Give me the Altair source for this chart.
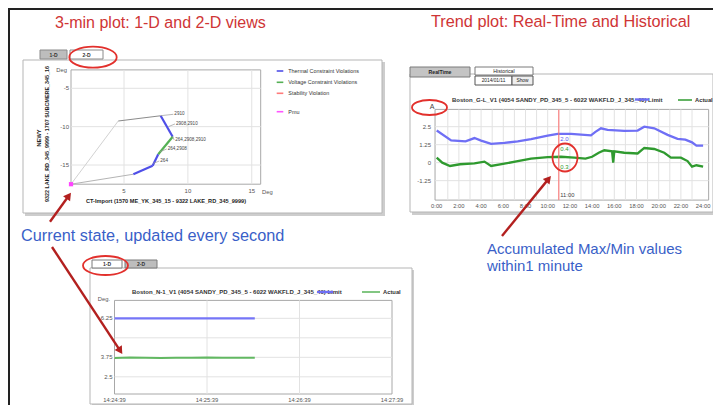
import math
import pandas as pd
import altair as alt

# ---------------- data ----------------
# 2-D view: operating-point trajectory (CT-Import vs NEWY angle difference, Deg)
traj_x = [0.85, 4.55, 7.87, 8.81, 7.68, 7.24, 5.73, 0.85]
traj_y = [-17.5, -9.26, -8.57, -11.31, -13.6, -15.1, -16.2, -17.5]
traj_seg = ["start", "approach", "thermal", "voltage", "thermal", "thermal", "return"]
pmu_x = [0.85]
pmu_y = [-17.5]
tag_text = ["2910", "2908,2910", "264,2908,2910", "264,2908", "264"]
tag_x = [8.86, 8.99, 8.93, 8.34, 7.76]
tag_y = [-8.39, -9.65, -11.74, -12.91, -14.48]
tag_from_x = [7.87, 8.47, 8.81, 7.82, 7.29]
tag_from_y = [-8.57, -10.0, -11.31, -13.27, -14.78]
twod_xticks = [5, 10, 15]
twod_xlabels = ["5", "10", "15"]
twod_yticks = [-5, -10, -15]
twod_ylabels = ["-5", "-10", "-15"]
legend_names = ["Thermal Constraint Violations", "Voltage Constraint Violations",
                "Stability Violation", "Pmu"]

# Trend plot (24 h): Limit and Actual
limit_h = [0, 1.3, 2.6, 3.4, 4.0, 4.9, 6.1, 7.3, 8.5, 10.0, 10.9, 12.1, 13.9, 14.3,
           14.8, 15.4, 16.9, 18.1, 18.7, 19.6, 20.8, 21.7, 22.4, 23.0, 23.4, 24.0]
limit_v = [2.23, 1.55, 1.48, 1.71, 1.53, 1.30, 1.37, 1.48, 1.64, 1.87, 2.0, 2.0, 1.9,
           2.14, 2.39, 2.28, 2.21, 2.23, 2.5, 2.39, 1.93, 1.66, 1.60, 1.41, 1.18, 1.18]
actual_h = [0, 0.5, 1.2, 2.1, 3.4, 4.3, 4.9, 6.1, 7.3, 8.5, 10.0, 11.2, 12.4, 13.4, 14.0,
            14.6, 15.1, 15.8, 15.9, 16.0, 16.9, 18.1, 18.7, 19.6, 20.5, 21.1, 22.0, 22.6,
            23.0, 23.4, 24.0]
actual_v = [0.35, 0.0, -0.23, -0.11, -0.05, 0.07, -0.23, -0.07, 0.11, 0.28, 0.39, 0.41,
            0.35, 0.28, 0.41, 0.69, 0.86, 0.79, 0.0, 0.79, 0.69, 0.64, 1.02, 0.95, 0.69,
            0.35, 0.35, 0.11, -0.28, -0.18, -0.28]
trend_xticks = [0, 2, 4, 6, 8, 10, 12, 14, 16, 18, 20, 22, 24]
trend_xlabels = ["0:00", "2:00", "4:00", "6:00", "8:00", "10:00", "12:00", "14:00",
                 "16:00", "18:00", "20:00", "22:00", "24:00"]
trend_vgrid = [1, 2, 3, 4, 5, 6, 7, 8, 9, 10, 11, 12, 13, 14, 15, 16, 17, 18, 19, 20, 21, 22, 23]
trend_yticks = [2.5, 1.25, 0, -1.25]
trend_ylabels = ["2.5", "1.25", "0", "-1.25"]
cursor_hour = [11.0]
readout_text = ["2.0", "0.4", "0.3"]
readout_y = [1.65, 0.95, -0.3]
readout_color = ["#5a5af0", "#2f9a2f", "#2f9a2f"]

# 1-D view (3 minutes)
oned_t = [0, 10, 20, 30, 40, 50, 60, 70, 80, 91]
oned_limit = [6.25, 6.25, 6.25, 6.25, 6.25, 6.25, 6.25, 6.25, 6.25, 6.25]
oned_actual = [3.70, 3.74, 3.72, 3.71, 3.72, 3.73, 3.74, 3.72, 3.73, 3.73]
oned_xticks = [0, 60, 120, 180]
oned_xlabels = ["14:24:39", "14:25:39", "14:26:39", "14:27:39"]
oned_grid_y = [2.5, 3.75, 5.0, 6.25]
oned_yticks = [6.25, 3.75, 2.5]
oned_ylabels = ["6.25", "3.75", "2.5"]

# ---------------- style ----------------
FONT = "Liberation Sans"
RED_TITLE = "#cf3535"
BLUE_TEXT = "#3a5fc8"
ARROW_RED = "#b3201f"
ELLIPSE_RED = "#e2302c"
GRID = "#e2e2e2"
PLOT_EDGE = "#a8a8a8"
TICK = "#555555"
LIMIT_BLUE = "#6f6ff5"
ACTUAL_GREEN = "#2f9a2f"
W, H = 705, 397

ONE = pd.DataFrame({"k": [0]})


def d_rect(x, y, x2, y2, fill="white", stroke="", sw=1.0):
    props = {"fill": fill, "strokeWidth": sw}
    if stroke:
        props["stroke"] = stroke
    return alt.Chart(ONE).mark_rect(**props).encode(
        x=alt.value(x), y=alt.value(y), x2=alt.value(x2), y2=alt.value(y2))


def d_rule(x, y, x2, y2, color, sw=1.0):
    return alt.Chart(ONE).mark_rule(color=color, strokeWidth=sw).encode(
        x=alt.value(x), y=alt.value(y), x2=alt.value(x2), y2=alt.value(y2))


def d_text(txt, x, y, size=6.0, color="#333333", align="left", baseline="middle",
           bold=False, angle=0):
    props = dict(text=txt, fontSize=size, color=color, align=align, baseline=baseline,
                 font=FONT)
    if bold:
        props["fontWeight"] = "bold"
    if angle:
        props["angle"] = angle
    return alt.Chart(ONE).mark_text(**props).encode(x=alt.value(x), y=alt.value(y))


def ellipse_path(rx, ry):
    m = max(rx, ry)
    a, b = rx / m, ry / m
    k = 0.5523
    f = lambda v: f"{v:.4f}"
    return (f"M{f(a)},0 C{f(a)},{f(b*k)} {f(a*k)},{f(b)} 0,{f(b)} "
            f"C{f(-a*k)},{f(b)} {f(-a)},{f(b*k)} {f(-a)},0 "
            f"C{f(-a)},{f(-b*k)} {f(-a*k)},{f(-b)} 0,{f(-b)} "
            f"C{f(a*k)},{f(-b)} {f(a)},{f(-b*k)} {f(a)},0 Z")


def d_ellipse(cx, cy, rx, ry):
    return alt.Chart(ONE).mark_point(
        shape=ellipse_path(rx, ry), size=(2 * max(rx, ry)) ** 2, filled=False,
        color=ELLIPSE_RED, strokeWidth=1.8, opacity=1).encode(
        x=alt.value(cx), y=alt.value(cy))


def d_arrow(x1, y1, x2, y2, head=75):
    L = math.hypot(x2 - x1, y2 - y1)
    ux, uy = (x2 - x1) / L, (y2 - y1) / L
    r = math.sqrt(head) / 2
    tip = 2 * math.tan(math.pi / 6) * r
    cx, cy = x2 - ux * tip, y2 - uy * tip
    ang = math.degrees(math.atan2(ux, -uy)) % 360
    shaft = d_rule(x1, y1, cx, cy, ARROW_RED, 2.4)
    hd = alt.Chart(ONE).mark_point(shape="triangle-up", size=head, angle=ang,
                                   filled=True, color=ARROW_RED, opacity=1).encode(
        x=alt.value(cx), y=alt.value(cy))
    return [shaft, hd]


def XQ(field, sc):
    return alt.X(field, type="quantitative", scale=sc, axis=None)


def YQ(field, sc):
    return alt.Y(field, type="quantitative", scale=sc, axis=None)


def XD(v, sc):
    return alt.XDatum(v, type="quantitative", scale=sc, axis=None)


def YD(v, sc):
    return alt.YDatum(v, type="quantitative", scale=sc, axis=None)


def tick_df(vals, labs=None):
    d = {"v": vals}
    if labs is not None:
        d["lab"] = labs
    return pd.DataFrame(d)


# ---------------- panel A: 2-D view ----------------
xA = [0.85, 15.7]
yA = [-17.5, -2.6]
xsA = alt.Scale(domain=xA, range=[63, 252.7], nice=False, zero=False)
ysA = alt.Scale(domain=yA, range=[176.2, 61.9], nice=False, zero=False)

A = []
A.append(alt.Chart(ONE).mark_rect(fill="white", stroke=PLOT_EDGE, strokeWidth=1).encode(
    x=XD(xA[0], xsA), x2=alt.X2Datum(xA[1]), y=YD(yA[0], ysA), y2=alt.Y2Datum(yA[1])))
A.append(alt.Chart(tick_df(twod_xticks)).mark_rule(color=GRID).encode(
    x=XQ("v", xsA), y=YD(yA[0], ysA), y2=alt.Y2Datum(yA[1])))
A.append(alt.Chart(tick_df(twod_yticks)).mark_rule(color=GRID).encode(
    y=YQ("v", ysA), x=XD(xA[0], xsA), x2=alt.X2Datum(xA[1])))
A.append(alt.Chart(tick_df(twod_xticks, twod_xlabels)).mark_text(
    fontSize=6, color=TICK, font=FONT, baseline="top", dy=4).encode(
    x=XQ("v", xsA), y=YD(yA[0], ysA), text="lab:N"))
A.append(alt.Chart(tick_df(twod_yticks, twod_ylabels)).mark_text(
    fontSize=6, color=TICK, font=FONT, align="right", dx=-2).encode(
    y=YQ("v", ysA), x=XD(xA[0], xsA), text="lab:N"))

seg_rows = []
for i, kind in enumerate(traj_seg):
    for j in (i, i + 1):
        seg_rows.append({"seg": i, "kind": kind, "x": traj_x[j], "y": traj_y[j], "o": j})
seg_df = pd.DataFrame(seg_rows)
seg_style = {"start": ("#d2d2d2", 1.0), "approach": ("#8c8c8c", 1.1),
             "return": ("#b4b4b4", 1.0), "thermal": ("#4f4fe8", 2.2),
             "voltage": ("#55b055", 2.2)}
for kind, (col, sw) in seg_style.items():
    A.append(alt.Chart(seg_df[seg_df["kind"] == kind]).mark_line(
        color=col, strokeWidth=sw).encode(
        x=XQ("x", xsA), y=YQ("y", ysA), detail="seg:N", order="o:Q"))

tags = pd.DataFrame({"t": tag_text, "tx": tag_x, "ty": tag_y,
                     "fx": tag_from_x, "fy": tag_from_y})
A.append(alt.Chart(tags).mark_rule(color="#9a9a9a", strokeWidth=0.7).encode(
    x=XQ("fx", xsA), y=YQ("fy", ysA), x2="tx:Q", y2="ty:Q"))
A.append(alt.Chart(tags).mark_text(fontSize=4.6, color="#444444", font=FONT,
                                   align="left", dx=1).encode(
    x=XQ("tx", xsA), y=YQ("ty", ysA), text="t:N"))
A.append(alt.Chart(pd.DataFrame({"x": pmu_x, "y": pmu_y})).mark_square(
    size=18, color="#ff44ff", opacity=1).encode(x=XQ("x", xsA), y=YQ("y", ysA)))
panelA = alt.layer(*A)

# ---------------- panel B: trend plot ----------------
xB = [-0.15, 24.5]
yB = [-2.6, 3.7]
xsB = alt.Scale(domain=[0, 24], range=[428.7, 695.1], nice=False, zero=False)
ysB = alt.Scale(domain=yB, range=[192.1, 101.4], nice=False, zero=False)

B = []
B.append(alt.Chart(ONE).mark_rect(fill="white", stroke=PLOT_EDGE, strokeWidth=1).encode(
    x=XD(xB[0], xsB), x2=alt.X2Datum(xB[1]), y=YD(yB[0], ysB), y2=alt.Y2Datum(yB[1])))
B.append(alt.Chart(tick_df(trend_vgrid)).mark_rule(color=GRID).encode(
    x=XQ("v", xsB), y=YD(yB[0], ysB), y2=alt.Y2Datum(yB[1])))
B.append(alt.Chart(tick_df(trend_yticks)).mark_rule(color=GRID).encode(
    y=YQ("v", ysB), x=XD(xB[0], xsB), x2=alt.X2Datum(xB[1])))
B.append(alt.Chart(tick_df(trend_xticks, trend_xlabels)).mark_text(
    fontSize=5.8, color=TICK, font=FONT, baseline="middle", dy=6).encode(
    x=XQ("v", xsB), y=YD(yB[0], ysB), text="lab:N"))
B.append(alt.Chart(tick_df(trend_yticks, trend_ylabels)).mark_text(
    fontSize=6, color=TICK, font=FONT, align="right", dx=-4).encode(
    y=YQ("v", ysB), x=XD(xB[0], xsB), text="lab:N"))
B.append(alt.Chart(pd.DataFrame({"h": limit_h, "v": limit_v})).mark_line(
    color=LIMIT_BLUE, strokeWidth=2.3).encode(x=XQ("h", xsB), y=YQ("v", ysB)))
B.append(alt.Chart(pd.DataFrame({"h": actual_h, "v": actual_v})).mark_line(
    color=ACTUAL_GREEN, strokeWidth=2.3).encode(x=XQ("h", xsB), y=YQ("v", ysB)))
B.append(alt.Chart(tick_df(cursor_hour)).mark_rule(color="#ff7070", strokeWidth=1).encode(
    x=XQ("v", xsB), y=YD(yB[0], ysB), y2=alt.Y2Datum(yB[1])))
B.append(alt.Chart(pd.DataFrame({"t": readout_text, "y": readout_y, "c": readout_color,
                                 "h": [cursor_hour[0]] * 3})).mark_text(
    fontSize=6, font=FONT, align="left", dx=1.5).encode(
    x=XQ("h", xsB), y=YQ("y", ysB), text="t:N", color=alt.Color("c:N", scale=None)))
B.append(alt.Chart(pd.DataFrame({"h": cursor_hour, "t": ["11:00"]})).mark_text(
    fontSize=5.8, font=FONT, align="left", dx=1.5, dy=-5, color="#444444").encode(
    x=XQ("h", xsB), y=YD(yB[0], ysB), text="t:N"))
panelB = alt.layer(*B)

# ---------------- panel C: 1-D view ----------------
yC = [1.4, 7.4]
xsC = alt.Scale(domain=[0, 180], range=[106.5, 384], nice=False, zero=False)
ysC = alt.Scale(domain=yC, range=[386, 292.4], nice=False, zero=False)

C = []
C.append(alt.Chart(ONE).mark_rect(fill="white", stroke=PLOT_EDGE, strokeWidth=1).encode(
    x=XD(0, xsC), x2=alt.X2Datum(180), y=YD(yC[0], ysC), y2=alt.Y2Datum(yC[1])))
C.append(alt.Chart(tick_df(oned_xticks[1:3])).mark_rule(color=GRID).encode(
    x=XQ("v", xsC), y=YD(yC[0], ysC), y2=alt.Y2Datum(yC[1])))
C.append(alt.Chart(tick_df(oned_grid_y)).mark_rule(color=GRID).encode(
    y=YQ("v", ysC), x=XD(0, xsC), x2=alt.X2Datum(180)))
C.append(alt.Chart(tick_df(oned_xticks, oned_xlabels)).mark_text(
    fontSize=5.8, color=TICK, font=FONT, baseline="middle", dy=6).encode(
    x=XQ("v", xsC), y=YD(yC[0], ysC), text="lab:N"))
C.append(alt.Chart(tick_df(oned_yticks, oned_ylabels)).mark_text(
    fontSize=6, color=TICK, font=FONT, align="right", dx=-2).encode(
    y=YQ("v", ysC), x=XD(0, xsC), text="lab:N"))
C.append(alt.Chart(pd.DataFrame({"t": oned_t, "v": oned_limit})).mark_line(
    color="#7575f7", strokeWidth=2.4).encode(x=XQ("t", xsC), y=YQ("v", ysC)))
C.append(alt.Chart(pd.DataFrame({"t": oned_t, "v": oned_actual})).mark_line(
    color="#62b862", strokeWidth=2).encode(x=XQ("t", xsC), y=YQ("v", ysC)))
panelC = alt.layer(*C)

# ---------------- decorations behind panels ----------------
back = []
# slide border
back.append(d_rule(0, 1, W, 1, "#222222", 2))
back.append(d_rule(1, 0, 1, H, "#222222", 2))
# screenshot frames (shadow + box)
back += [d_rect(17, 54, 377, 208, "#cdcdcd"), d_rect(15, 52, 374, 205, "white", "#b5b5b5")]
back += [d_rect(404, 68, 707, 207, "#cdcdcd"), d_rect(402, 66, 705, 204, "white", "#b5b5b5")]
back += [d_rect(84, 262, 406, 399, "#cdcdcd"), d_rect(82, 260, 404, 396, "white", "#b5b5b5")]
# 2-D panel tabs
back += [d_rect(32, 42, 59, 51, "#bdbdbd", "#8a8a8a"), d_text("1-D", 45.5, 46.5, 5, "#333", "center", bold=True),
         d_rect(62, 42, 95, 51, "white", "#8a8a8a"), d_text("2-D", 78.5, 46.5, 5, "#333", "center", bold=True)]
# trend tabs
back += [d_rect(402, 59, 462, 69, "#c4c4c4", "#7a7a7a"),
         d_text("RealTime", 432, 64, 5.2, "#222", "center", bold=True),
         d_rect(467, 59, 525, 67, "white", "#7a7a7a"),
         d_text("Historical", 496, 63, 5.2, "#222", "center"),
         d_rect(467, 68, 504, 77, "white", "#555555"),
         d_text("2014/01/11", 485.5, 72.5, 4.8, "#222", "center"),
         d_rect(504, 68, 525, 77, "#eeeeee", "#555555"),
         d_text("Show", 514.5, 72.5, 4.8, "#222", "center")]
# 1-D tabs
back += [d_rect(84, 252, 114, 260, "white", "#7a7a7a"), d_text("1-D", 99, 256, 5, "#333", "center", bold=True),
         d_rect(117, 252, 149, 260, "#bdbdbd", "#7a7a7a"), d_text("2-D", 133, 256, 5, "#333", "center", bold=True)]

# ---------------- panel texts / legends ----------------
front = []
# 2-D panel axis texts and legend
front += [d_text("Deg", 59, 62, 5.8, TICK, "right"),
          d_text("Deg", 254, 184, 5.8, TICK, "left"),
          d_text("CT-Import  (1570 ME_YK_345_15 - 9322 LAKE_RD_345_9999)", 158, 193, 5.6, "#222", "center", bold=True),
          d_text("NEWY", 30.5, 130, 5.6, "#222", "center", bold=True, angle=270),
          d_text("9322 LAKE_RD_345_9999 - 1707 SUBCMERE_345_16", 38.5, 126, 5.4, "#222", "center", bold=True, angle=270)]
leg_colors = ["#4f4fe8", "#55b055", "#ff7b7b", "#ff55ff"]
leg_y = [63, 74.3, 85.3, 103.7]
for name, col, yy in zip(legend_names, leg_colors, leg_y):
    front.append(d_rule(268.7, yy, 275.3, yy, col, 1.6))
    front.append(d_text(name, 280.3, yy, 5.4, "#333"))
# trend panel header
front += [d_text("A", 424, 99, 7, "#444", "center"),
          d_text("Boston_G-L_V1  (4054 SANDY_PD_345_5 -  6022 WAKFLD_J_345_40)  Limit", 444, 92, 6.0, "#333", bold=True),
          d_rule(627, 91.5, 641, 91.5, LIMIT_BLUE, 2.4),
          d_rule(670, 92, 684, 92, ACTUAL_GREEN, 1.5),
          d_text("Actual", 687, 92, 5.8, "#333", bold=True)]
# 1-D panel header
front += [d_text("Deg.", 102, 291, 5.8, TICK, "right"),
          d_text("Boston_N-1_V1  (4054 SANDY_PD_345_5 -  6022 WAKFLD_J_345_40)  Limit", 124, 284, 6.0, "#333", bold=True),
          d_rule(309, 284, 325, 284, LIMIT_BLUE, 2.4),
          d_rule(354, 284, 372, 284, "#62b862", 1.6),
          d_text("Actual", 375, 284, 5.8, "#333", bold=True)]

# ---------------- slide annotations ----------------
front += [d_text("3-min plot: 1-D and 2-D views", 47, 20, 16, RED_TITLE, baseline="alphabetic"),
          d_text("Trend plot: Real-Time and Historical", 423, 19, 16.3, RED_TITLE, baseline="alphabetic"),
          d_text("Current state, updated every second", 13, 233, 16.3, BLUE_TEXT, baseline="alphabetic"),
          d_text("Accumulated  Max/Min values", 479, 246, 15, BLUE_TEXT, baseline="alphabetic"),
          d_text("within1  minute", 479, 263, 15, BLUE_TEXT, baseline="alphabetic")]
front += [d_ellipse(85, 49.2, 23.7, 10.5),
          d_ellipse(421.5, 99.5, 17.5, 7.5),
          d_ellipse(557, 149.5, 12.5, 14),
          d_ellipse(97.5, 257.5, 22.5, 9.5)]
front += d_arrow(42, 213.7, 63.7, 183.7)
front += d_arrow(44, 239, 115, 347)
front += d_arrow(494, 228, 543.7, 167)

chart = alt.layer(*back, panelA, panelB, panelC, *front).resolve_scale(
    x="independent", y="independent"
).properties(
    width=W, height=H, padding=0,
    autosize=alt.AutoSizeParams(type="none"),
).configure_view(stroke=None)

chart.save("out.html", embed_options={"renderer": "svg", "actions": False})
